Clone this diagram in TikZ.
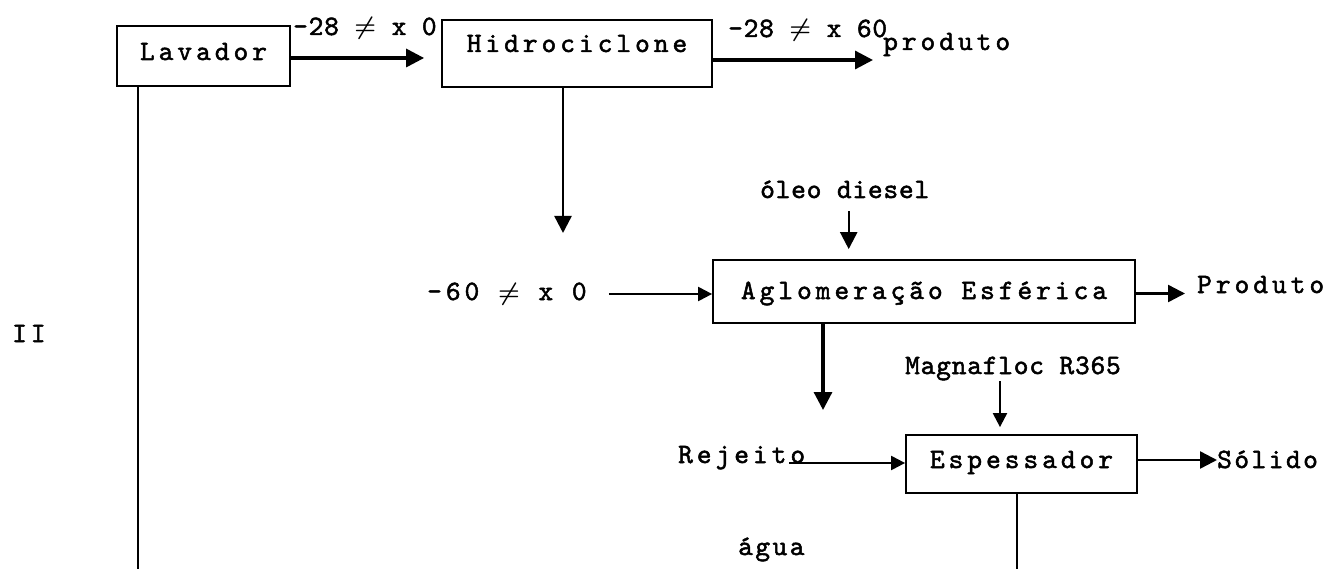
\documentclass[tikz,border=0pt]{standalone}
\usepackage{fontspec}
\usepackage{amsmath}
\usetikzlibrary{arrows.meta}
\newfontfamily\ttA{lmmono10-regular}[Extension=.otf, LetterSpace=14.3, FakeBold=1.8]
\newfontfamily\ttB{lmmono10-regular}[Extension=.otf, LetterSpace=2.9, FakeBold=1.8]
\newfontfamily\ttC{lmmono10-regular}[Extension=.otf, LetterSpace=8.9, FakeBold=1.8]
\newcommand{\twA}{\ttA\fontsize{28}{33}\selectfont}
\newcommand{\twB}{\ttB\fontsize{28}{33}\selectfont}
\newcommand{\twC}{\ttC\fontsize{28}{33}\selectfont}
\newcommand{\nq}{$\boldsymbol{\neq}$}
\tikzset{
  box/.style={draw, line width=1.8pt, inner sep=0pt, font=\twA, text height=18pt},
  lab/.style={inner sep=0pt, anchor=base west, text height=16pt, text depth=4pt},
  big/.style={line width=3.2pt, -{Triangle[length=18pt,width=18pt]}},
  mid/.style={line width=2.4pt, -{Triangle[length=17pt,width=17pt]}},
  sml/.style={line width=2.2pt, -{Triangle[length=14pt,width=14pt]}},
  plain/.style={line width=2.6pt}
}
\begin{document}
\begin{tikzpicture}[x=1pt,y=-1pt]
\useasboundingbox (0,0) rectangle (1332,569);
% boxes
\node[box, minimum width=173pt, minimum height=60pt, text depth=10pt] (lav) at (203.5,56) {Lavador};
\node[box, minimum width=270pt, minimum height=67pt, text depth=21pt] (hid) at (577,53.5) {Hidrociclone};
\node[box, minimum width=422pt, minimum height=63pt, text depth=3pt] (aglo) at (924,291.5) {Aglomeração Esférica};
\node[box, minimum width=231pt, minimum height=58pt, text depth=10pt] (esp) at (1021.5,464) {Espessador};
% labels
\node[lab, font=\twB] (l28a) at (293,35) {-28 \nq{} x 0};
\node[lab, font=\twB] (l28b) at (728,37) {-28 \nq{} x 60};
\node[lab, font=\twA] (prod1) at (883,50) {produto};
\node[lab, font=\twB] (oleo) at (760,198) {óleo diesel};
\node[lab, font=\twA] (m60) at (427,300) {-60 \nq{} x 0};
\node[lab, font=\twA] (prod2) at (1197,293) {Produto};
\node[lab, font=\twB] (magna) at (905,374) {Magnafloc R365};
\node[lab, font=\twA] (rej) at (678,463) {Rejeito};
\node[lab, font=\twC] (sol) at (1217,468) {Sólido};
\node[lab, font=\twC] (agua) at (738,555) {água};
\node[lab, font=\twA] (ii) at (12,342) {II};
% free ends
\coordinate (c1) at (563,233);
\coordinate (c2) at (823,410);
\coordinate (c3) at (138,569);
\coordinate (c4) at (1017,569);
% connectors
\draw[big, shorten >=17pt] ([yshift=-2pt]lav.east) -- ([yshift=-2pt]lav.east -| hid.west);
\draw[big, shorten >=10pt] ([yshift=-6.5pt]hid.east) -- ([yshift=-6.5pt]hid.east -| prod1.west);
\draw[mid] ([xshift=-14pt]hid.south) -- (c1);
\draw[mid, shorten <=9pt, shorten >=10pt] ([xshift=4pt]oleo.south) -- ([xshift=4pt]oleo.south |- aglo.north);
\draw[sml, shorten <=22pt] (m60.east) -- (m60.east -| aglo.west);
\draw[mid, shorten >=12pt] ([yshift=-2pt]aglo.east) -- ([yshift=-2pt]aglo.east -| prod2.west);
\draw[big] ([xshift=-101pt]aglo.south) -- (c2);
\draw[sml, shorten <=3pt, shorten >=7pt] ([xshift=-13pt]magna.south) -- ([xshift=-13pt]magna.south |- esp.north);
\draw[sml] ([xshift=-16pt]rej.base east) -- (rej.base east -| esp.west);
\draw[mid] ([yshift=4pt]esp.east) -- ([yshift=4pt]esp.east -| sol.west);
\draw[plain] ([xshift=-4.5pt]esp.south) -- (c4);
\draw[plain] ([xshift=-65.5pt]lav.south) -- (c3);
\end{tikzpicture}
\end{document}
